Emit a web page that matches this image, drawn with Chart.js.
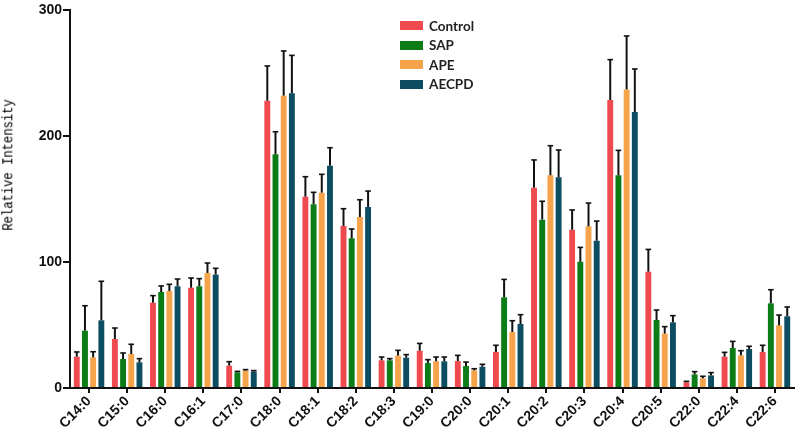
<!DOCTYPE html>
<html>
<head>
<meta charset="utf-8">
<script src="https://cdn.jsdelivr.net/npm/chart.js@4.4.0/dist/chart.umd.min.js"></script>
<style>
  html, body { margin: 0; padding: 0; background: #fff; }
  #wrap { position: relative; width: 797px; height: 431px; }
  #ytitle {
    position: absolute; left: 9px; top: 165px;
    transform: translate(-50%, -50%) rotate(-90deg) scaleY(1.1);
    font: 12.5px "Liberation Mono", monospace; color: #000; white-space: nowrap;
    letter-spacing: -0.2px;
  }
  #legend { position: absolute; left: 400px; top: 16px; }
  .item { display: flex; align-items: center; height: 19.5px; font: bold 13.5px Lato, sans-serif; color: #222; }
  .sw { width: 23px; height: 9px; margin-right: 6px; }
</style>
</head>
<body>
<div id="wrap">
  <canvas id="c" width="797" height="431"></canvas>
  <div id="ytitle">Relative Intensity</div>
  <div id="legend"></div>
</div>
<script>
const categories = ["C14:0","C15:0","C16:0","C16:1","C17:0","C18:0","C18:1","C18:2","C18:3","C19:0",
  "C20:0","C20:1","C20:2","C20:3","C20:4","C20:5","C22:0","C22:4","C22:6"];

const control = [24.9,38.9,67.7,79.6,17.7,228,151.8,128.6,22,29.6,21.4,28.6,159,125.6,228.6,92.3,4.5,24.9,28.6];
const controlErr = [3.7,8.7,5.6,7.7,3.2,27.6,15.9,13.7,2.6,5.8,4.5,5.3,22,15.7,32,17.7,0.8,3.4,5.3];

const sap = [45.5,23,76.2,80.7,12.4,185.5,145.8,118.8,22,19.8,17.5,72,133.6,100.2,168.8,54,10.8,31.7,67.2];
const sapErr = [19.8,4.8,4.8,6.1,0.8,17.9,9.5,7.4,1.3,2.7,3.1,14.2,14.6,11.4,19.8,7.9,2.2,5.3,10.8];

const ape = [24.3,27,77,91.3,13.8,232,155,135.7,25.7,21.2,14,44.4,168.8,128.3,237,43.1,7.7,25.9,49.7];
const apeErr = [4.5,7.7,5.3,7.9,0.8,35.5,14.6,13.7,4.2,3.4,1.3,9,23.5,18.5,42.4,5.6,1.6,3.7,8.2];

const aecpd = [53.7,20.4,80.7,90,13,233.9,176.4,143.7,24.1,21.2,16.9,50.8,167.2,116.9,219,52.1,10,31,56.9];
const aecpdErr = [31,2.9,5.8,5,0.8,30.1,14.3,12.6,2.4,3.4,1.9,7.4,21.7,15.6,34.2,5.3,2.2,2.1,7.4];

const yTicks = [0, 100, 200, 300];

const series = [
  { label: "Control", data: control, err: controlErr, color: "#ef4a4f" },
  { label: "SAP", data: sap, err: sapErr, color: "#0b7c16" },
  { label: "APE", data: ape, err: apeErr, color: "#f6a44c" },
  { label: "AECPD", data: aecpd, err: aecpdErr, color: "#0d4d61" },
];

// legend (html)
const legendEl = document.getElementById("legend");
for (const s of series) {
  const row = document.createElement("div");
  row.className = "item";
  row.innerHTML = `<span class="sw" style="background:${s.color}"></span>${s.label}`;
  legendEl.appendChild(row);
}

// error bars, upward only
const errorBars = {
  id: "errorBars",
  afterDatasetsDraw(chart) {
    const ctx = chart.ctx;
    const y = chart.scales.y;
    ctx.save();
    ctx.strokeStyle = "#111";
    chart.data.datasets.forEach((ds, di) => {
      const meta = chart.getDatasetMeta(di);
      meta.data.forEach((bar, i) => {
        const top = y.getPixelForValue(ds.data[i] + ds.err[i]);
        ctx.lineWidth = 2;
        ctx.beginPath();
        ctx.moveTo(bar.x, bar.y);
        ctx.lineTo(bar.x, top);
        ctx.stroke();
        ctx.lineWidth = 1.6;
        ctx.beginPath();
        ctx.moveTo(bar.x - 2.8, top);
        ctx.lineTo(bar.x + 2.8, top);
        ctx.stroke();
      });
    });
    ctx.restore();
  }
};

new Chart(document.getElementById("c"), {
  type: "bar",
  data: {
    labels: categories,
    datasets: series.map(s => ({
      label: s.label,
      data: s.data,
      err: s.err,
      backgroundColor: s.color,
      borderWidth: 0,
      categoryPercentage: 0.86,
      barPercentage: 0.72,
    })),
  },
  options: {
    responsive: false,
    animation: false,
    layout: { padding: { top: 10, right: 3, left: 0, bottom: 0 } },
    plugins: { legend: { display: false }, tooltip: { enabled: false } },
    scales: {
      x: {
        afterFit: (s) => { s.height = 43; },
        border: { color: "#111", width: 2 },
        grid: { display: true, drawOnChartArea: false, offset: false, color: "#111", lineWidth: 2, tickLength: 5 },
        ticks: {
          color: "#111", maxRotation: 45, minRotation: 45, padding: 0,
          font: { family: "Liberation Sans", weight: "bold", size: 14 },
        },
      },
      y: {
        min: 0, max: 300,
        afterFit: (s) => { s.width = 70; },
        afterBuildTicks: (s) => { s.ticks = yTicks.map(v => ({ value: v })); },
        border: { color: "#111", width: 2 },
        grid: { display: true, drawOnChartArea: false, color: "#111", lineWidth: 2, tickLength: 7 },
        ticks: {
          color: "#111", padding: 1,
          font: { family: "Liberation Sans", weight: "bold", size: 14 },
        },
      },
    },
  },
  plugins: [errorBars],
});
</script>
</body>
</html>
